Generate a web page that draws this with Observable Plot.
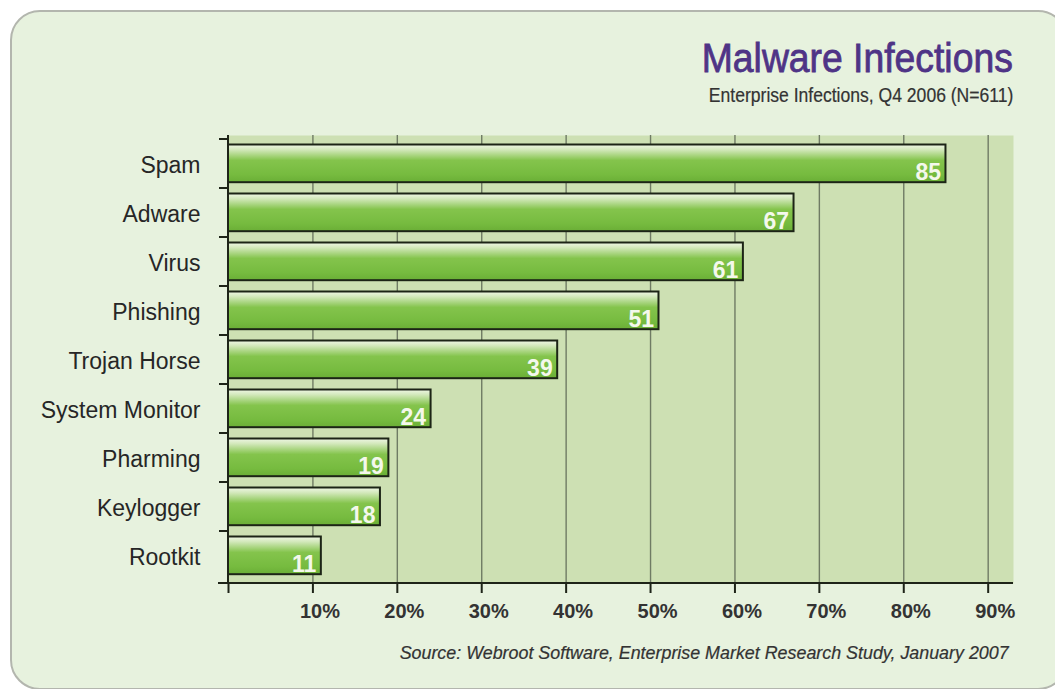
<!DOCTYPE html>
<html>
<head>
<meta charset="utf-8">
<script src="https://cdn.jsdelivr.net/npm/d3@7"></script>
<script src="https://cdn.jsdelivr.net/npm/@observablehq/plot@0.6"></script>
<style>
  html, body { margin: 0; padding: 0; background: #ffffff; overflow: hidden; }
  #wrap { position: relative; width: 1055px; height: 689px; overflow: hidden; font-family: "Liberation Sans", Arial, sans-serif; }
  #panel { position: absolute; left: 10px; top: 10px; width: 1054px; height: 676px; border: 2px solid #b3b6ae; border-radius: 30px; background: #e7f2de; }
  .hdr { position: absolute; right: 42px; white-space: nowrap; transform-origin: right center; }
  #title { top: 34px; font-size: 41px; color: #4f3486; transform: scaleX(0.91); line-height: 48px; -webkit-text-stroke: 0.8px #4f3486; }
  #subtitle { top: 83px; font-size: 19.5px; color: #333333; transform: scaleX(0.9); line-height: 24px; -webkit-text-stroke: 0.2px #333333; }
  #caption { position: absolute; right: 46px; top: 641px; font-size: 18px; font-style: italic; color: #333333; white-space: nowrap; transform-origin: right center; line-height: 24px; -webkit-text-stroke: 0.2px #333333; }
  #chart { position: absolute; left: 0; top: 0; }
</style>
</head>
<body>
<div id="wrap">
  <div id="panel"></div>
  <div id="chart"></div>
  <div id="title" class="hdr">Malware Infections</div>
  <div id="subtitle" class="hdr">Enterprise Infections, Q4 2006 (N=611)</div>
  <div id="caption">Source: Webroot Software, Enterprise Market Research Study, January 2007</div>
</div>
<script>
// ---- data ----
const categories = ["Spam", "Adware", "Virus", "Phishing", "Trojan Horse", "System Monitor", "Pharming", "Keylogger", "Rootkit"];
const values = [85, 67, 61, 51, 39, 24, 19, 18, 11];
const xTickValues = [10, 20, 30, 40, 50, 60, 70, 80, 90];
const xTickMarks = [0, 10, 20, 30, 40, 50, 60, 70, 80, 90];
const xTickLabel = d => d + "%";

const data = categories.map((name, i) => ({name, value: values[i]}));

const W = 1055, H = 689;
const mL = 228, mR = 42, mT = 135, mB = 106;

// custom mark: gradient defs + axis lines + band-boundary ticks
function axisFrame(index, scales, values, dims) {
  const ns = "http://www.w3.org/2000/svg";
  const g = document.createElementNS(ns, "g");
  g.innerHTML = `<defs><linearGradient id="barGrad" x1="0" y1="0" x2="0" y2="1">
      <stop offset="0" stop-color="#f0f7e6"/>
      <stop offset="0.14" stop-color="#d2e8ba"/>
      <stop offset="0.42" stop-color="#84c44c"/>
      <stop offset="0.8" stop-color="#76bb3f"/>
      <stop offset="1" stop-color="#6aae36"/>
    </linearGradient></defs>`;
  const x0 = scales.x(0);
  const top = dims.marginTop, bottom = dims.height - dims.marginBottom;
  const right = dims.width - dims.marginRight;
  const line = (x1, y1, x2, y2, w) => {
    const l = document.createElementNS(ns, "line");
    l.setAttribute("x1", x1); l.setAttribute("y1", y1);
    l.setAttribute("x2", x2); l.setAttribute("y2", y2);
    l.setAttribute("stroke", "#1e2418"); l.setAttribute("stroke-width", w);
    g.appendChild(l);
  };
  line(x0, top, x0, bottom, 2);
  categories.forEach(c => {
    const y = scales.y(c);
    line(x0 - 9, y, x0, y, 2);
  });
  line(x0 - 10, bottom, right, bottom, 2);
  return g;
}

const plot = Plot.plot({
  width: W,
  height: H,
  marginLeft: mL,
  marginRight: mR,
  marginTop: mT,
  marginBottom: mB,
  style: {background: "transparent", fontFamily: "Liberation Sans, Arial, sans-serif"},
  x: {domain: [0, 93], axis: null},
  y: {domain: categories, padding: 0, axis: null},
  marks: [
    Plot.frame({fill: "#cde0b3", stroke: null}),
    Plot.ruleX(xTickValues, {stroke: "#6f7b64", strokeWidth: 1.4}),
    Plot.barX(data, {
      y: "name", x: "value",
      fill: "url(#barGrad)", stroke: "#1c2416", strokeWidth: 2,
      insetTop: 5.5, insetBottom: 5.8
    }),
    Plot.text(data, {
      y: "name", x: "value", text: d => String(d.value),
      textAnchor: "end", dx: -5, dy: 9,
      fill: "#f4f8ec", fontSize: 23, fontWeight: "bold"
    }),
    Plot.axisY({
      tickSize: 0, tickPadding: 28, fontSize: 23, label: null,
      fill: "#262626", dy: 1.5
    }),
    Plot.axisX({
      ticks: xTickMarks, tickSize: 10, tickFormat: () => "", label: null,
      stroke: "#1e2418", strokeWidth: 2
    }),
    Plot.text(xTickValues, {
      x: d => d, text: xTickLabel, frameAnchor: "bottom",
      dy: 34, dx: 7, fontSize: 20, fontWeight: "bold", fill: "#333333"
    }),
    axisFrame
  ]
});

document.getElementById("chart").appendChild(plot);

const cap = document.getElementById("caption");
const cw = cap.getBoundingClientRect().width;
cap.style.transform = `scaleX(${609 / cw})`;
</script>
</body>
</html>
